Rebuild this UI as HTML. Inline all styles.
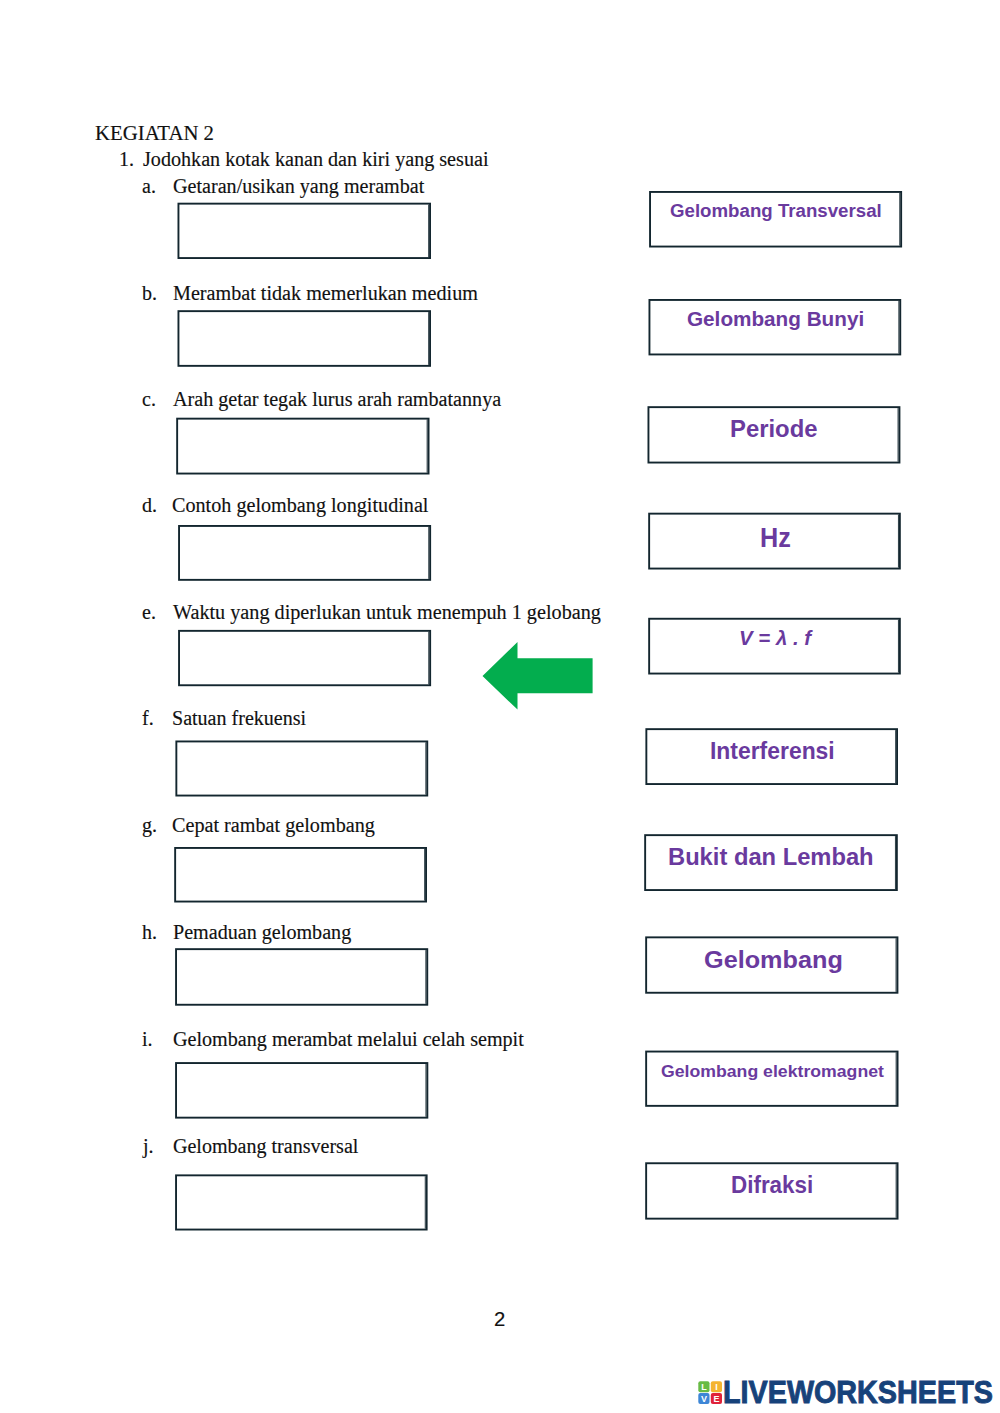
<!DOCTYPE html>
<html><head><meta charset="utf-8">
<style>
html,body{margin:0;padding:0;background:#fff;}
body{width:1000px;height:1413px;position:relative;overflow:hidden;}
.t{position:absolute;font-family:"Liberation Serif",serif;color:#111;-webkit-text-stroke:0.15px #111;white-space:nowrap;transform-origin:0 0;}
.r{position:absolute;font-family:"Liberation Sans",sans-serif;font-weight:bold;color:#6a3a9e;white-space:nowrap;transform-origin:0 0;}
svg{position:absolute;left:0;top:0;}
</style></head><body>
<svg width="1000" height="1413" viewBox="0 0 1000 1413"><rect x="178.45" y="203.65" width="251.60" height="54.40" fill="none" stroke="#13262f" stroke-width="1.90"/><path d="M428.65 204.60 V257.10" fill="none" stroke="#13262f" stroke-width="0.9"/><rect x="178.45" y="311.15" width="251.60" height="54.70" fill="none" stroke="#13262f" stroke-width="1.90"/><path d="M428.65 312.10 V364.90" fill="none" stroke="#13262f" stroke-width="0.9"/><rect x="177.15" y="418.65" width="251.40" height="54.90" fill="none" stroke="#13262f" stroke-width="1.90"/><path d="M427.15 419.60 V472.60" fill="none" stroke="#13262f" stroke-width="0.9"/><rect x="179.05" y="525.95" width="251.10" height="53.90" fill="none" stroke="#13262f" stroke-width="1.90"/><path d="M428.75 526.90 V578.90" fill="none" stroke="#13262f" stroke-width="0.9"/><rect x="179.05" y="630.85" width="251.10" height="54.40" fill="none" stroke="#13262f" stroke-width="1.90"/><path d="M428.75 631.80 V684.30" fill="none" stroke="#13262f" stroke-width="0.9"/><rect x="176.35" y="741.45" width="250.90" height="54.10" fill="none" stroke="#13262f" stroke-width="1.90"/><path d="M425.85 742.40 V794.60" fill="none" stroke="#13262f" stroke-width="0.9"/><rect x="175.15" y="847.95" width="250.90" height="53.60" fill="none" stroke="#13262f" stroke-width="1.90"/><path d="M424.65 848.90 V900.60" fill="none" stroke="#13262f" stroke-width="0.9"/><rect x="176.05" y="949.15" width="251.20" height="55.60" fill="none" stroke="#13262f" stroke-width="1.90"/><path d="M425.85 950.10 V1003.80" fill="none" stroke="#13262f" stroke-width="0.9"/><rect x="176.05" y="1063.05" width="251.30" height="54.60" fill="none" stroke="#13262f" stroke-width="1.90"/><path d="M425.95 1064.00 V1116.70" fill="none" stroke="#13262f" stroke-width="0.9"/><rect x="176.05" y="1175.35" width="250.60" height="54.20" fill="none" stroke="#13262f" stroke-width="1.90"/><path d="M425.25 1176.30 V1228.60" fill="none" stroke="#13262f" stroke-width="0.9"/><rect x="650.05" y="191.95" width="251.10" height="54.60" fill="none" stroke="#13262f" stroke-width="1.90"/><path d="M899.75 192.90 V245.60" fill="none" stroke="#13262f" stroke-width="0.9"/><rect x="649.45" y="299.95" width="250.80" height="54.50" fill="none" stroke="#13262f" stroke-width="1.90"/><path d="M898.85 300.90 V353.50" fill="none" stroke="#13262f" stroke-width="0.9"/><rect x="648.45" y="407.15" width="251.00" height="55.40" fill="none" stroke="#13262f" stroke-width="1.90"/><path d="M898.05 408.10 V461.60" fill="none" stroke="#13262f" stroke-width="0.9"/><rect x="649.15" y="513.65" width="250.70" height="54.90" fill="none" stroke="#13262f" stroke-width="1.90"/><path d="M898.45 514.60 V567.60" fill="none" stroke="#13262f" stroke-width="0.9"/><rect x="649.15" y="618.75" width="250.70" height="54.80" fill="none" stroke="#13262f" stroke-width="1.90"/><path d="M898.45 619.70 V672.60" fill="none" stroke="#13262f" stroke-width="0.9"/><rect x="646.35" y="729.15" width="250.70" height="54.90" fill="none" stroke="#13262f" stroke-width="1.90"/><path d="M895.65 730.10 V783.10" fill="none" stroke="#13262f" stroke-width="0.9"/><rect x="645.15" y="835.15" width="251.70" height="54.90" fill="none" stroke="#13262f" stroke-width="1.90"/><path d="M895.45 836.10 V889.10" fill="none" stroke="#13262f" stroke-width="0.9"/><rect x="646.15" y="937.35" width="251.30" height="55.40" fill="none" stroke="#13262f" stroke-width="1.90"/><path d="M896.05 938.30 V991.80" fill="none" stroke="#13262f" stroke-width="0.9"/><rect x="646.15" y="1051.55" width="251.40" height="54.30" fill="none" stroke="#13262f" stroke-width="1.90"/><path d="M896.15 1052.50 V1104.90" fill="none" stroke="#13262f" stroke-width="0.9"/><rect x="646.15" y="1163.25" width="251.40" height="55.40" fill="none" stroke="#13262f" stroke-width="1.90"/><path d="M896.15 1164.20 V1217.70" fill="none" stroke="#13262f" stroke-width="0.9"/><path d="M482.5 675.9 L517.5 641.9 L517.5 658.3 L592.6 658.3 L592.6 693.3 L517.5 693.3 L517.5 709.6 Z" fill="#03ad4e"/><rect x="698.3" y="1381.2" width="11.2" height="11" rx="2" fill="#68bb45"/><text x="703.9" y="1389.9" font-family="Liberation Sans" font-weight="bold" font-size="9" fill="#fff" text-anchor="middle">L</text><rect x="710.8" y="1381.2" width="11.2" height="11" rx="2" fill="#f4b330"/><text x="716.4" y="1389.9" font-family="Liberation Sans" font-weight="bold" font-size="9" fill="#fff" text-anchor="middle">I</text><rect x="698.3" y="1392.9" width="11.2" height="11" rx="2" fill="#3d86d6"/><text x="703.9" y="1401.6" font-family="Liberation Sans" font-weight="bold" font-size="9" fill="#fff" text-anchor="middle">V</text><rect x="710.8" y="1392.9" width="11.2" height="11" rx="2" fill="#e0223a"/><text x="716.4" y="1401.6" font-family="Liberation Sans" font-weight="bold" font-size="9" fill="#fff" text-anchor="middle">E</text></svg>
<div class="t" style="left:94.93px;top:122.75px;font-size:20.00px;line-height:20.00px;transform:scaleX(1.0395);">KEGIATAN 2</div>
<div class="t" style="left:143.00px;top:148.55px;font-size:20.00px;line-height:20.00px;transform:scaleX(1.0065);">Jodohkan kotak kanan dan kiri yang sesuai</div>
<div class="t" style="left:172.50px;top:176.05px;font-size:20.00px;line-height:20.00px;transform:scaleX(1.0057);">Getaran/usikan yang merambat</div>
<div class="t" style="left:172.50px;top:283.25px;font-size:20.00px;line-height:20.00px;transform:scaleX(1.0073);">Merambat tidak memerlukan medium</div>
<div class="t" style="left:172.50px;top:388.75px;font-size:20.00px;line-height:20.00px;transform:scaleX(1.0068);">Arah getar tegak lurus arah rambatannya</div>
<div class="t" style="left:172.49px;top:494.55px;font-size:20.00px;line-height:20.00px;transform:scaleX(1.0079);">Contoh gelombang longitudinal</div>
<div class="t" style="left:173.49px;top:601.95px;font-size:20.00px;line-height:20.00px;transform:scaleX(1.0095);">Waktu yang diperlukan untuk menempuh 1 gelobang</div>
<div class="t" style="left:172.49px;top:707.55px;font-size:20.00px;line-height:20.00px;transform:scaleX(1.0017);">Satuan frekuensi</div>
<div class="t" style="left:172.49px;top:814.65px;font-size:20.00px;line-height:20.00px;transform:scaleX(1.0091);">Cepat rambat gelombang</div>
<div class="t" style="left:172.50px;top:922.05px;font-size:20.00px;line-height:20.00px;transform:scaleX(1.0057);">Pemaduan gelombang</div>
<div class="t" style="left:172.50px;top:1028.55px;font-size:20.00px;line-height:20.00px;transform:scaleX(1.0058);">Gelombang merambat melalui celah sempit</div>
<div class="t" style="left:172.50px;top:1135.95px;font-size:20.00px;line-height:20.00px;transform:scaleX(1.0022);">Gelombang transversal</div>
<div class="t" style="left:119.00px;top:148.55px;font-size:20.00px;line-height:20.00px;">1.</div>
<div class="t" style="left:142.00px;top:176.05px;font-size:20.00px;line-height:20.00px;">a.</div>
<div class="t" style="left:142.00px;top:283.25px;font-size:20.00px;line-height:20.00px;">b.</div>
<div class="t" style="left:142.00px;top:388.75px;font-size:20.00px;line-height:20.00px;">c.</div>
<div class="t" style="left:142.00px;top:494.55px;font-size:20.00px;line-height:20.00px;">d.</div>
<div class="t" style="left:142.00px;top:601.95px;font-size:20.00px;line-height:20.00px;">e.</div>
<div class="t" style="left:142.00px;top:707.55px;font-size:20.00px;line-height:20.00px;">f.</div>
<div class="t" style="left:142.00px;top:814.65px;font-size:20.00px;line-height:20.00px;">g.</div>
<div class="t" style="left:142.00px;top:922.05px;font-size:20.00px;line-height:20.00px;">h.</div>
<div class="t" style="left:142.00px;top:1028.55px;font-size:20.00px;line-height:20.00px;">i.</div>
<div class="t" style="left:143.00px;top:1135.95px;font-size:20.00px;line-height:20.00px;">j.</div>
<div class="r" style="left:669.94px;top:202.30px;font-size:18.90px;line-height:18.90px;transform:scaleX(0.9885);">Gelombang Transversal</div>
<div class="r" style="left:686.89px;top:308.62px;font-size:20.30px;line-height:20.30px;transform:scaleX(1.0210);">Gelombang Bunyi</div>
<div class="r" style="left:729.79px;top:417.30px;font-size:24.10px;line-height:24.10px;transform:scaleX(0.9899);">Periode</div>
<div class="r" style="left:759.58px;top:525.34px;font-size:27.00px;line-height:27.00px;transform:scaleX(0.9333);">Hz</div>
<div class="r" style="left:738.58px;top:627.55px;font-size:20.50px;line-height:20.50px;transform:scaleX(0.9972);font-style:italic;">V = λ . f</div>
<div class="r" style="left:709.89px;top:738.81px;font-size:24.20px;line-height:24.20px;transform:scaleX(0.9467);">Interferensi</div>
<div class="r" style="left:668.29px;top:844.71px;font-size:24.20px;line-height:24.20px;transform:scaleX(0.9807);">Bukit dan Lembah</div>
<div class="r" style="left:703.70px;top:947.85px;font-size:24.40px;line-height:24.40px;transform:scaleX(1.0345);">Gelombang</div>
<div class="r" style="left:660.87px;top:1063.49px;font-size:16.20px;line-height:16.20px;transform:scaleX(1.0917);">Gelombang elektromagnet</div>
<div class="r" style="left:730.98px;top:1173.00px;font-size:24.10px;line-height:24.10px;transform:scaleX(0.9308);">Difraksi</div>
<div class="r" style="left:722.85px;top:1377.06px;font-size:31.00px;line-height:31.00px;transform:scaleX(0.9271);color:#17427a;-webkit-text-stroke:0.9px #17427a;">LIVEWORKSHEETS</div>
<div class="t" style="left:493.79px;top:1309.99px;font-size:19.50px;line-height:19.50px;transform:scaleX(1.0414);font-family:'Liberation Sans',sans-serif;color:#111;">2</div>
</body></html>
